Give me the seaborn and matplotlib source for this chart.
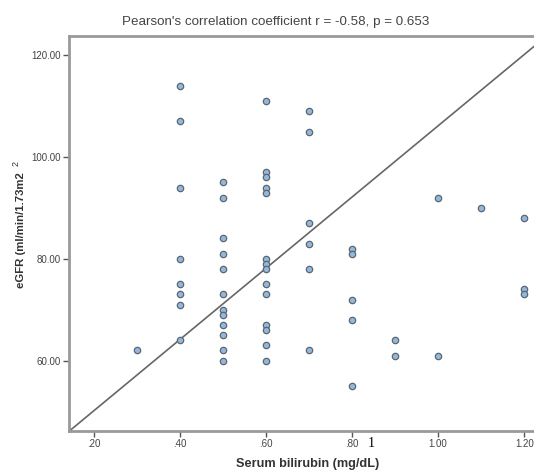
# bilirubin_egfr_scatter.py

import pandas as pd
import matplotlib
matplotlib.use('Agg')
import matplotlib.pyplot as plt
import seaborn as sns

# Data (one list per bilirubin level)
bilirubin_levels = [0.3, 0.4, 0.5, 0.6, 0.7, 0.8, 0.9, 1.0, 1.1, 1.2]
egfr_values = [
    [62],
    [114, 107, 94, 80, 75, 73, 71, 64],
    [95, 92, 84, 81, 78, 73, 70, 69, 67, 65, 62, 60],
    [111, 97, 96, 94, 93, 80, 79, 78, 75, 73, 67, 66, 63, 60],
    [109, 105, 87, 83, 78, 62],
    [82, 81, 72, 68, 55],
    [64, 61],
    [92, 61],
    [90],
    [88, 74, 73],
]
x_ticks = [0.2, 0.4, 0.6, 0.8, 1.0, 1.2]
x_tick_labels = ['.20', '.40', '.60', '.80', '1.00', '1.20']
y_ticks = [60, 80, 100, 120]
y_tick_labels = ['60.00', '80.00', '100.00', '120.00']

rows = []
for x, ys in zip(bilirubin_levels, egfr_values):
    for y in ys:
        rows.append({'bilirubin': x, 'egfr': y})
df = pd.DataFrame(rows)

sns.set_style('white')
plt.rcParams['font.family'] = ['Liberation Sans', 'DejaVu Sans']

fig = plt.figure(figsize=(5.34, 4.71), dpi=100)
# axes run a little past the right edge of the picture (cropped original)
ax = fig.add_axes([0.130, 0.085, 0.893, 0.838])

sns.scatterplot(data=df, x='bilirubin', y='egfr', ax=ax, s=21,
                color='#93b8dc', edgecolor='#5b6670', linewidth=0.9, zorder=3)

# reference line corner to corner
ax.axline((0, 0), (1, 1), transform=ax.transAxes, color='#666666', lw=1.2, zorder=2)

ax.set_xlim(0.144, 1.251)
ax.set_ylim(46.2, 123.7)
ax.set_xticks(x_ticks)
ax.set_xticklabels(x_tick_labels)
ax.set_yticks(y_ticks)
ax.set_yticklabels(y_tick_labels)
ax.tick_params(direction='out', length=4, width=1, color='#555555',
               labelsize=7, labelcolor='#444444', pad=2, bottom=True, left=True)

for side in ['left', 'bottom', 'top', 'right']:
    ax.spines[side].set_color('#999999')
    ax.spines[side].set_linewidth(2)

ax.set_xlabel('Serum bilirubin (mg/dL)', fontsize=9.2, fontweight='bold', color='#333333', labelpad=6)
ax.set_ylabel('')
fig.text(0.039, 0.512, 'eGFR (ml/min/1.73m2', rotation=90, fontsize=8.2, fontweight='bold',
         color='#333333', ha='center', va='center')
fig.text(0.030, 0.653, '2', rotation=90, fontsize=6.5, color='#333333', ha='center', va='center')

ax.set_title("Pearson's correlation coefficient r = -0.58, p = 0.653", fontsize=9.6,
             color='#444444', pad=8, x=0.433)

# stray mark next to the .80 tick in the original
fig.text(0.695, 0.058, '1', fontsize=10, family='Liberation Serif', color='black', ha='center', va='center')

plt.savefig('out.png', dpi=100)
